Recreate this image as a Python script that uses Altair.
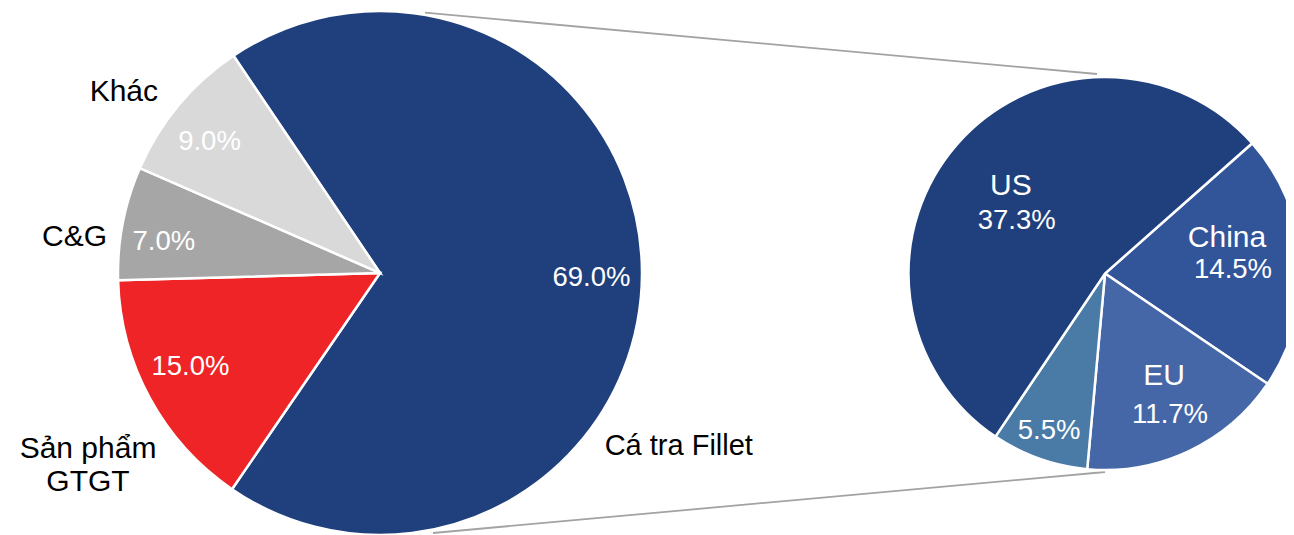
import math
import altair as alt
import pandas as pd

# ---- data ----
main_cats = ["Cá tra Fillet", "Sản phẩm GTGT", "C&G", "Khác"]
main_vals = [69.0, 15.0, 7.0, 9.0]
main_names = ["Cá tra Fillet", "Sản phẩm\nGTGT", "C&G", "Khác"]

sub_cats = ["China", "EU", "Other", "US"]
sub_vals = [14.5, 11.7, 5.5, 37.3]
sub_names = ["China", "EU", "", "US"]

all_cats = main_cats + sub_cats
all_colors = ["#1F3F7D", "#EE2426", "#A6A6A6", "#D9D9D9",
              "#32559A", "#4567A8", "#4A7BA7", "#1F3F7D"]

main_df = pd.DataFrame({"cat": main_cats, "value": main_vals,
                        "name": main_names, "idx": range(len(main_cats))})
sub_df = pd.DataFrame({"cat": sub_cats, "value": sub_vals,
                       "name": sub_names, "idx": range(len(sub_cats))})

# ---- layout ----
W, H = 1278, 527
FONT = "Liberation Sans"
PCT_FS = 27.5
NAME_FS = 30
L_CX, L_CY, L_R = 372, 265, 262
R_CX, R_CY, R_R = 1097, 265.5, 196.5
L_START = math.radians(-34.0)
R_START = math.radians(48.5)

color = alt.Color("cat:N", scale=alt.Scale(domain=all_cats, range=all_colors), legend=None)


def pie(df, cx, cy, r, start, labels):
    theta = alt.Theta("value:Q", stack=True,
                      scale=alt.Scale(range=[start, start + 2 * math.pi]))
    order = alt.Order("idx:Q")
    base = alt.Chart(df)
    arc = base.mark_arc(stroke="white", strokeWidth=2.5).encode(
        theta=theta, color=color, order=order,
        x=alt.value(cx), y=alt.value(cy), radius=alt.value(r))
    layers = [arc]
    for cat, field, rad, dx, dy, col, fs, lh in labels:
        t = base.transform_calculate(
            pct="format(datum.value, '.1f') + '%'",
        ).transform_calculate(
            t=f"datum.cat == '{cat}' ? datum.{field} : ''"
        ).mark_text(font=FONT, fontSize=fs, align="center", baseline="middle",
                    lineBreak="\n", lineHeight=lh, radius=rad, dx=dx, dy=dy,
                    color=col).encode(
            theta=theta, detail="cat:N", order=order,
            x=alt.value(cx), y=alt.value(cy), text="t:N")
        layers.append(t)
    return alt.layer(*layers)


left = pie(main_df, L_CX, L_CY, L_R, L_START, [
    ("Cá tra Fillet", "pct", 212, -0.5, 4.6, "white", PCT_FS, 30),
    ("Sản phẩm GTGT", "pct", 212, -3.4, -7.9, "white", PCT_FS, 30),
    ("C&G", "pct", 212, -8.1, 9.9, "white", PCT_FS, 30),
    ("Khác", "pct", 212, -7.6, 4.6, "white", PCT_FS, 30),
    ("Cá tra Fillet", "name", 310, -11.2, 172.1, "black", 29, 33),
    ("Sản phẩm GTGT", "name", 310, -19.8, 27.8, "black", NAME_FS, 33.3),
    ("C&G", "name", 310, -1.2, 23.6, "black", NAME_FS, 33),
    ("Khác", "name", 310, -18, 17.8, "black", NAME_FS, 33),
])

right = pie(sub_df, R_CX, R_CY, R_R, R_START, [
    ("US", "name", 120, -3.9, -8.6, "white", NAME_FS, 33),
    ("US", "pct", 120, 2, 26.8, "white", PCT_FS, 30),
    ("China", "name", 125, -2.7, -27.7, "white", NAME_FS, 33),
    ("China", "pct", 125, 3.3, 4.2, "white", PCT_FS, 30),
    ("EU", "name", 135, 1.3, -19.8, "white", NAME_FS, 33),
    ("EU", "pct", 135, 7.3, 19.1, "white", PCT_FS, 30),
    ("Other", "pct", 167, 0, -0.3, "white", PCT_FS, 30),
])

# connector lines of the pie-of-pie (derived from the two pies' geometry)
segments = [
    (L_CX + 45, L_CY - 260.3, R_CX - 8, R_CY - 199.5),
    (L_CX + 53, L_CY + 260, R_CX, R_CY + 198.5),
]
dummy = pd.DataFrame({"k": [0]})
conn = [
    alt.Chart(dummy).mark_rule(color="#A3A3A3", strokeWidth=1.8).encode(
        x=alt.value(a), y=alt.value(b), x2=alt.value(c), y2=alt.value(d))
    for a, b, c, d in segments
]

chart = alt.layer(*conn, left, right).resolve_scale(theta="independent").properties(
    width=W, height=H, padding=0, autosize=alt.AutoSizeParams(type="none")
).configure_view(stroke=None)

chart.save("out.html", embed_options={"renderer": "svg", "actions": False})
